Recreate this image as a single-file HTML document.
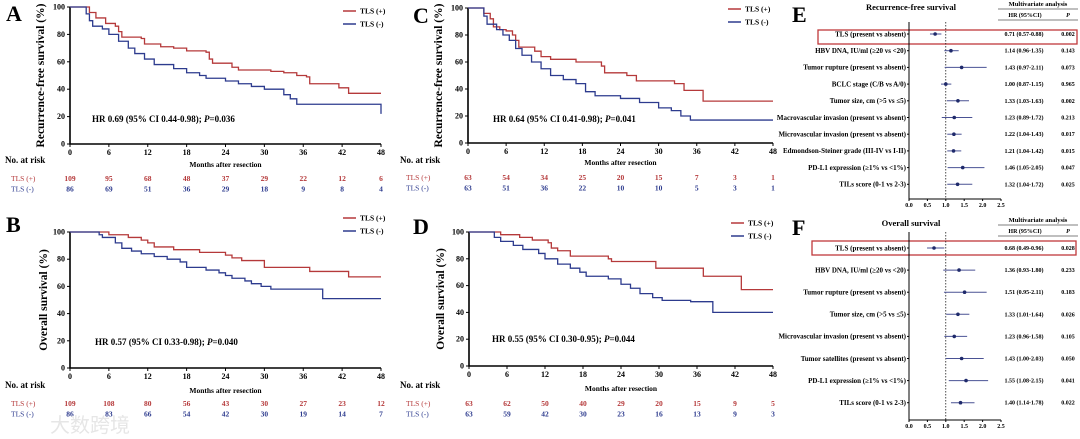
<!DOCTYPE html>
<html><head><meta charset="utf-8">
<style>
html,body{margin:0;padding:0;background:#fff;}
svg{display:block;font-family:"Liberation Serif",serif;}
</style></head>
<body>
<svg id="fig" width="1080" height="439" viewBox="0 0 1080 439" xmlns="http://www.w3.org/2000/svg"></svg>
<script>
// ---------- KM data (month, survival%) ----------
const aPos = [[0,100],[2,100],[3,96],[4,92],[5.5,88],[7,86],[7.5,82],[8,78],[11,77],[11.5,73],[14,71],[16,70],[18,68],[21,67],[21.5,62],[22,59],[25,56],[26,54],[31,53],[33,52],[35,50],[36.5,49],[37,44],[41.5,41],[43,37],[48,37]];
const aNeg = [[0,100],[2,100],[2.5,95],[3,90],[3.5,86],[5,84],[6,80],[7.5,75],[9,70],[10,66],[11.5,62],[13,58],[16,55],[18,52],[20,50],[21,48],[24,46],[26,44],[28,42],[30,40],[33,36],[34,33],[35,29],[47.8,29],[48,22]];
const bPos = [[0,100],[4,100],[6,98],[9,96],[11,94],[12,92],[13,89],[16,87],[20,85],[24,83],[25,81],[26.5,79],[30,74],[37,71],[43,67],[48,67]];
const bNeg = [[0,100],[3.5,100],[4.5,98],[5,96],[7,92],[8,88],[9.5,86],[11,84],[13,82],[15,80],[17,78],[18,74],[21,72],[23,70],[24,68],[25,66],[27,64],[28,62],[29.5,60],[31,58],[38,58],[39,51],[48,51]];
const cPos = [[0,100],[2,100],[2.5,96],[3.5,92],[4,86],[5,84],[6,83],[7,80],[7.5,76],[8,71],[10.5,68],[11.5,64],[13,62],[17,60],[21,57],[21.5,52],[25,50],[26.5,46],[32.5,44],[34,39],[37,31],[48,31]];
const cNeg = [[0,100],[2,100],[2.5,94],[3,88],[4.5,84],[5.5,80],[6.5,76],[7.5,70],[8.5,65],[10,60],[11.5,55],[13,50],[15,47],[17,44],[18.5,38],[20,35],[24,33],[27,30],[30,26],[32,24],[33.5,20],[35,17],[48,17]];
const dPos = [[0,100],[4,100],[5,98],[8,96],[10,94],[12.5,92],[13,88],[14,86],[16,82],[22,80],[22.5,78],[29.5,73],[37,67],[43,57],[48,57]];
const dNeg = [[0,100],[3,100],[4,96],[5,93],[7,90],[8.5,87],[11,84],[12,80],[14,76],[16,73],[17.5,70],[18.5,67],[22,65],[24,61],[25.5,58],[27,54],[29,51],[30.5,49],[35,48],[38.5,40],[48,40]];
// risk tables
const riskA = [[109,95,68,48,37,29,22,12,6],[86,69,51,36,29,18,9,8,4]];
const riskB = [[109,108,80,56,43,30,27,23,12],[86,83,66,54,42,30,19,14,7]];
const riskC = [[63,54,34,25,20,15,7,3,1],[63,51,36,22,10,10,5,3,1]];
const riskD = [[63,62,50,40,29,20,15,9,5],[63,59,42,30,23,16,13,9,3]];
const monthTicks = [0,6,12,18,24,30,36,42,48];
const survTicks = [0,20,40,60,80,100];
// forest data
const eLabels = ["TLS (present vs absent)","HBV DNA, IU/ml (≥20 vs <20)","Tumor rupture (present vs absent)","BCLC stage (C/B vs A/0)","Tumor size, cm (>5 vs ≤5)","Macrovascular invasion (present vs absent)","Microvascular invasion (present vs absent)","Edmondson-Steiner grade (III-IV vs I-II)","PD-L1 expression (≥1% vs <1%)","TILs score (0-1 vs 2-3)"];
const eHR = [0.71,1.14,1.43,1.00,1.33,1.23,1.22,1.21,1.46,1.32];
const eLo = [0.57,0.96,0.97,0.87,1.03,0.89,1.04,1.04,1.05,1.04];
const eHi = [0.88,1.35,2.11,1.15,1.63,1.72,1.43,1.42,2.05,1.72];
const eP = ["0.002","0.143","0.073","0.965","0.002","0.213","0.017","0.015","0.047","0.025"];
const fLabels = ["TLS (present vs absent)","HBV DNA, IU/ml (≥20 vs <20)","Tumor rupture (present vs absent)","Tumor size, cm (>5 vs ≤5)","Microvascular invasion (present vs absent)","Tumor satellites (present vs absent)","PD-L1 expression (≥1% vs <1%)","TILs score (0-1 vs 2-3)"];
const fHR = [0.68,1.36,1.51,1.33,1.23,1.43,1.55,1.40];
const fLo = [0.49,0.93,0.95,1.01,0.96,1.00,1.08,1.14];
const fHi = [0.96,1.80,2.11,1.64,1.58,2.03,2.15,1.78];
const fP = ["0.028","0.233","0.183","0.026","0.105","0.050","0.041","0.022"];
const forestTicks = [0,0.5,1,1.5,2,2.5];

const NS="http://www.w3.org/2000/svg";
const svg=document.getElementById('fig');
const RED="#b5393a", BLUE="#2d3b8e";
function mk(tag,attrs,parent,text){const e=document.createElementNS(NS,tag);for(const k in attrs)e.setAttribute(k,attrs[k]);if(text!==undefined)e.textContent=text;(parent||svg).appendChild(e);return e;}

function km(cfg){
  const g=mk('g',{});
  
  
  const xs=m=>cfg.x0+(cfg.x1-cfg.x0)*m/48;
  const ys=v=>cfg.y0-(cfg.y0-cfg.y1)*v/100;
  const L=mk('text',{x:cfg.lx,y:cfg.ly,'font-size':22,'font-weight':'bold'},g,cfg.letter);
  
  const ax=mk('path',{d:`M${cfg.x0},${ys(100)}V${cfg.y0}H${cfg.x1}`,stroke:'#000','stroke-width':1.6,fill:'none'},g);
  
  survTicks.forEach(t=>{
    mk('line',{x1:cfg.x0-3,x2:cfg.x0,y1:ys(t),y2:ys(t),stroke:'#000'},g);
    const tt=mk('text',{x:cfg.x0-5,y:ys(t)+2.5,'font-size':8,'font-weight':'bold','text-anchor':'end'},g,t);
    
  });
  monthTicks.forEach(t=>{
    mk('line',{x1:xs(t),x2:xs(t),y1:cfg.y0,y2:cfg.y0+3,stroke:'#000'},g);
    const tt=mk('text',{x:xs(t),y:cfg.y0+11,'font-size':8,'font-weight':'bold','text-anchor':'middle'},g,t);
    
  });
  const xt=mk('text',{x:(cfg.x0+cfg.x1)/2,y:cfg.mly,'font-size':7.5,'font-weight':'bold','text-anchor':'middle'},g,'Months after resection');
  
  const cy=(ys(100)+cfg.y0)/2;
  const yt=mk('text',{x:cfg.ytx,y:cy,'font-size':11.5,'font-weight':'bold','text-anchor':'middle',transform:`rotate(-90 ${cfg.ytx} ${cy})`},g,cfg.ytitle);
  
  [[cfg.pos,RED,'curve-tls-positive'],[cfg.neg,BLUE,'curve-tls-negative']].forEach(([d,c,n])=>{
    let p=`M${xs(d[0][0])},${ys(d[0][1])}`;
    for(let i=1;i<d.length;i++){p+=`H${xs(d[i][0])}V${ys(d[i][1])}`;}
    const pe=mk('path',{d:p,stroke:c,'stroke-width':1.3,fill:'none'},g);
    
  });
  const hr=mk('text',{x:cfg.hrx,y:cfg.hry,'font-size':9,'font-weight':'bold'},g);
  
  mk('tspan',{},hr,cfg.hr[0]);mk('tspan',{'font-style':'italic'},hr,'P');mk('tspan',{},hr,cfg.hr[1]);
  [[RED,'TLS (+)',0],[BLUE,'TLS (-)',1]].forEach(([c,t,i])=>{
    const ly=cfg.legy+i*13;
    const ll=mk('line',{x1:cfg.legx,x2:cfg.legx+13,y1:ly,y2:ly,stroke:c,'stroke-width':1.5},g);
    
    const lt=mk('text',{x:cfg.legx+17,y:ly+2.5,'font-size':7.5,'font-weight':'bold'},g,t);
    
  });
  const nr=mk('text',{x:cfg.nrx,y:cfg.nry,'font-size':9,'font-weight':'bold'},g,'No. at risk');
  
  [[RED,'TLS (+)',0],[BLUE,'TLS (-)',1]].forEach(([c,t,i])=>{
    const ry=cfg.ry+i*10.5;
    const rl=mk('text',{x:cfg.nrx+6,y:ry,'font-size':7.5,fill:c},g,t);
    
    cfg.risk[i].forEach((v,j)=>{
      const rv=mk('text',{x:xs(monthTicks[j]),y:ry,'font-size':7.5,'font-weight':'bold',fill:c,'text-anchor':'middle'},g,v);
      
    });
  });
}
km({name:'panel-a',letter:'A',lx:6,ly:21,x0:70,x1:381,y0:144,y1:7,ytx:44,ytitle:'Recurrence-free survival (%)',mly:167,pos:aPos,neg:aNeg,hr:['HR 0.69 (95% CI 0.44-0.98); ','=0.036'],hrx:92,hry:122,legx:343,legy:11,nrx:5,nry:163,ry:181,risk:riskA});
km({name:'panel-b',letter:'B',lx:6,ly:232,x0:70,x1:381,y0:368,y1:232,ytx:47,ytitle:'Overall survival (%)',mly:393,pos:bPos,neg:bNeg,hr:['HR 0.57 (95% CI 0.33-0.98); ','=0.040'],hrx:95,hry:345,legx:343,legy:218,nrx:5,nry:388,ry:406,risk:riskB});
km({name:'panel-c',letter:'C',lx:413,ly:23,x0:468,x1:773,y0:143,y1:8,ytx:442,ytitle:'Recurrence-free survival (%)',mly:165,pos:cPos,neg:cNeg,hr:['HR 0.64 (95% CI 0.41-0.98); ','=0.041'],hrx:493,hry:122,legx:728,legy:9,nrx:400,nry:163,ry:180,risk:riskC});
km({name:'panel-d',letter:'D',lx:413,ly:234,x0:469,x1:773,y0:366,y1:232,ytx:444,ytitle:'Overall survival (%)',mly:391,pos:dPos,neg:dNeg,hr:['HR 0.55 (95% CI 0.30-0.95); ','=0.044'],hrx:492,hry:342,legx:731,legy:223,nrx:400,nry:388,ry:406,risk:riskD});

function forest(cfg){
  const g=mk('g',{});
  
  
  const x0=909, unit=36.8;
  const xs=v=>x0+unit*v;
  const L=mk('text',{x:cfg.lx,y:cfg.ly,'font-size':22,'font-weight':'bold'},g,cfg.letter);
  
  const t=mk('text',{x:cfg.tx,y:cfg.ty,'font-size':8.5,'font-weight':'bold','text-anchor':'middle'},g,cfg.title);
  
  const ma=mk('text',{x:1038,y:cfg.ty-4,'font-size':6.5,'font-weight':'bold','text-anchor':'middle'},g,'Multivariate analysis');
  
  mk('line',{x1:998,x2:1078,y1:cfg.ty-1,y2:cfg.ty-1,stroke:'#000','stroke-width':0.6},g);
  const h1=mk('text',{x:1025,y:cfg.ty+7,'font-size':6,'font-weight':'bold','text-anchor':'middle'},g,'HR (95%CI)');
  
  const h2=mk('text',{x:1068,y:cfg.ty+7,'font-size':6,'font-weight':'bold','font-style':'italic','text-anchor':'middle'},g,'P');
  
  mk('line',{x1:998,x2:1078,y1:cfg.ty+10,y2:cfg.ty+10,stroke:'#000','stroke-width':0.6},g);
  const box=mk('rect',{x:cfg.box[0],y:cfg.box[1],width:cfg.box[2],height:cfg.box[3],fill:'none',stroke:'#c0393b','stroke-width':1.3},g);
  
  mk('line',{x1:x0,x2:x0,y1:cfg.axTop,y2:cfg.axBot,stroke:'#000','stroke-width':1},g);
  mk('line',{x1:x0,x2:xs(2.5),y1:cfg.axBot,y2:cfg.axBot,stroke:'#000','stroke-width':1},g);
  const ref=mk('line',{x1:xs(1),x2:xs(1),y1:cfg.axTop,y2:cfg.axBot,stroke:'#000','stroke-width':0.7,'stroke-dasharray':'1.5,1.5'},g);
  
  forestTicks.forEach(v=>{
    mk('line',{x1:xs(v),x2:xs(v),y1:cfg.axBot,y2:cfg.axBot+2,stroke:'#000'},g);
    const tl=mk('text',{x:xs(v),y:cfg.axBot+8,'font-size':6,'font-weight':'bold','text-anchor':'middle'},g,v.toFixed(1));
    
  });
  cfg.labels.forEach((lab,i)=>{
    const y=cfg.row0+i*cfg.step;
    mk('line',{x1:x0-2,x2:x0,y1:y,y2:y,stroke:'#000'},g);
    const lt=mk('text',{x:x0-3,y:y+2.3,'font-size':7,'font-weight':'bold','text-anchor':'end'},g,lab);
    
    const ci=mk('line',{x1:xs(cfg.lo[i]),x2:xs(cfg.hi[i]),y1:y,y2:y,stroke:'#4a5294','stroke-width':1},g);
    
    const pt=mk('circle',{cx:xs(cfg.hr[i]),cy:y,r:1.8,fill:'#1f2a6b'},g);
    
    const ht=mk('text',{x:1024,y:y+2,'font-size':6,'font-weight':'bold','text-anchor':'middle'},g,`${cfg.hr[i].toFixed(2)} (${cfg.lo[i].toFixed(2)}-${cfg.hi[i].toFixed(2)})`);
    
    const pv=mk('text',{x:1068,y:y+2,'font-size':6,'font-weight':'bold','text-anchor':'middle'},g,cfg.p[i]);
    
  });
}
forest({name:'panel-e-forest',letter:'E',lx:792,ly:22,title:'Recurrence-free survival',tx:911,ty:10,box:[818,30,259,14],axTop:22,axBot:199,row0:34,step:16.7,labels:eLabels,hr:eHR,lo:eLo,hi:eHi,p:eP});
forest({name:'panel-f-forest',letter:'F',lx:792,ly:235,title:'Overall survival',tx:911,ty:226,box:[812,241,264,14],axTop:232,axBot:420,row0:248,step:22.1,labels:fLabels,hr:fHR,lo:fLo,hi:fHi,p:fP});

const wm=mk('text',{x:50,y:432,'font-size':20,fill:'#e6e6e6','font-family':'"Liberation Sans","Noto Sans CJK SC",sans-serif'},svg,'大数跨境');

</script>
</body></html>
